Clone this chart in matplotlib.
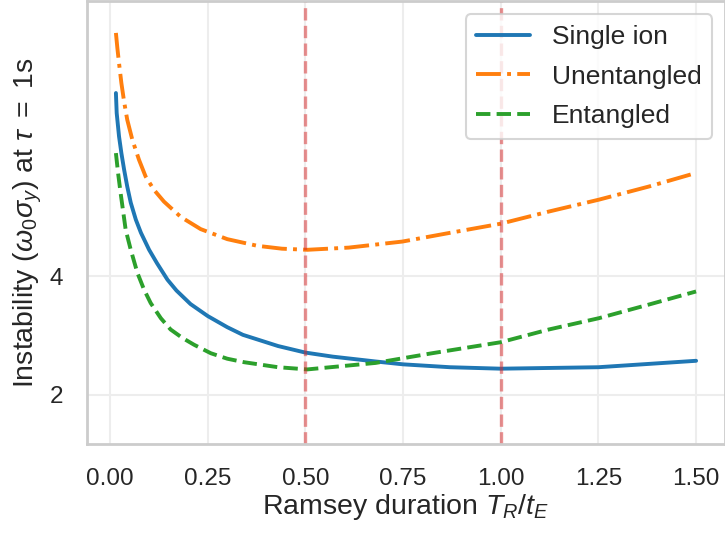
import numpy as np
import matplotlib
matplotlib.use("Agg")
import matplotlib.pyplot as plt
import matplotlib.ticker as mticker
import seaborn as sns

# values (log y axis)
x_single = [0.015, 0.017, 0.023, 0.029, 0.036, 0.044, 0.053, 0.066, 0.079, 0.10,
            0.12, 0.147, 0.17, 0.206, 0.25, 0.30, 0.34, 0.43, 0.50, 0.57,
            0.68, 0.75, 0.87, 1.0, 1.25, 1.5]
y_single = [11.68, 10.39, 9.06, 8.22, 7.46, 6.76, 6.15, 5.57, 5.16, 4.67,
            4.32, 3.92, 3.68, 3.40, 3.17, 2.97, 2.84, 2.66, 2.56, 2.50,
            2.43, 2.39, 2.35, 2.33, 2.35, 2.44]

x_unent = [0.015, 0.0187, 0.023, 0.029, 0.036, 0.044, 0.057, 0.074, 0.091, 0.1125,
           0.138, 0.181, 0.232, 0.30, 0.377, 0.44, 0.505, 0.611, 0.748, 0.867,
           1.0, 1.123, 1.251, 1.379, 1.5]
y_unent = [16.6, 15.2, 13.9, 12.38, 11.1, 9.99, 8.89, 7.91, 7.17, 6.63,
           6.19, 5.66, 5.27, 4.97, 4.78, 4.70, 4.67, 4.73, 4.90, 5.15,
           5.44, 5.84, 6.26, 6.76, 7.32]

x_ent = [0.015, 0.0205, 0.027, 0.040, 0.053, 0.070, 0.087, 0.104, 0.130, 0.155,
         0.185, 0.215, 0.258, 0.30, 0.343, 0.43, 0.505, 0.68, 0.824, 1.0,
         1.123, 1.251, 1.379, 1.5]
y_ent = [8.22, 7.32, 6.51, 5.25, 4.67, 4.08, 3.70, 3.42, 3.13, 2.93,
         2.79, 2.68, 2.55, 2.47, 2.42, 2.35, 2.32, 2.41, 2.55, 2.72,
         2.93, 3.13, 3.39, 3.66]

vlines = [0.5, 1.0]
xticks = [0.0, 0.25, 0.5, 0.75, 1.0, 1.25, 1.5]
yticks = [2, 4]

sns.set_theme(style='whitegrid', context='talk')
plt.rcParams['font.family'] = ['Liberation Sans', 'DejaVu Sans']
plt.rcParams['mathtext.fontset'] = 'custom'
plt.rcParams['mathtext.rm'] = 'Liberation Sans'
plt.rcParams['mathtext.it'] = 'Liberation Sans:italic'
plt.rcParams['mathtext.bf'] = 'Liberation Sans:bold'

fig = plt.figure(figsize=(7.25, 5.33), dpi=100)
ax = fig.add_axes([0.12, 0.167, 0.88, 0.831])

ax.plot(x_single, y_single, color='#1f77b4', ls='-', lw=2.8, label='Single ion')
ax.plot(x_unent, y_unent, color='#ff7f0e', ls='-.', lw=2.8, label='Unentangled')
ax.plot(x_ent, y_ent, color='#2ca02c', ls='--', lw=2.8, label='Entangled')
for v in vlines:
    ax.axvline(v, color='#d62728', alpha=0.5, ls='--', lw=2.4)

ax.set_yscale('log')
ax.set_ylim(1.5, 20)
ax.set_xlim(-0.059, 1.574)
ax.set_yticks(yticks)
ax.yaxis.set_major_formatter(mticker.ScalarFormatter())
ax.yaxis.set_minor_locator(mticker.NullLocator())
ax.set_xticks(xticks)
ax.xaxis.set_major_formatter(mticker.FormatStrFormatter('%.2f'))
ax.grid(True, color='0.93', lw=1.5)

for s in ax.spines.values():
    s.set_color('0.8')
    s.set_linewidth(2)

ax.tick_params(labelsize=17.5, colors='0.15', pad=8)
ax.set_xlabel(r'Ramsey duration $T_R/t_E$', fontsize=20.5, color='0.15', labelpad=2)
ax.set_ylabel(r'Instability $(\omega_0\sigma_y)$ at $\tau\ =\ 1$s', fontsize=20.5,
              color='0.15', labelpad=4)

leg = ax.legend(loc='upper right', fontsize=19, handlelength=2.05, labelspacing=0.6,
                frameon=True)
leg.get_frame().set_edgecolor('0.8')
for t in leg.get_texts():
    t.set_color('0.15')

fig.savefig('out.png', dpi=100)
